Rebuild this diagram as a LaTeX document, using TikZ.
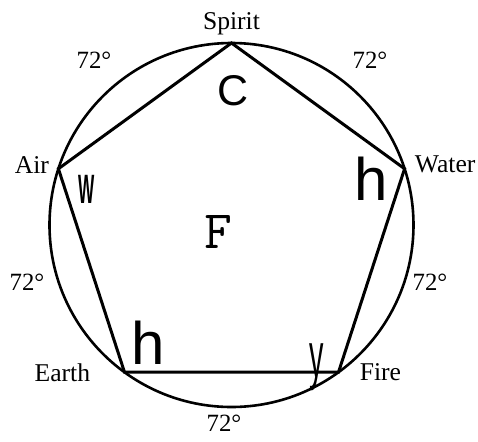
\documentclass[tikz,border=0pt]{standalone}
\usepackage{fontspec}
\setmainfont{Liberation Serif}
\newfontfamily\glyphsans{Liberation Sans}
\usetikzlibrary{positioning}

\begin{document}
\begin{tikzpicture}[
    x=0.5pt, y=0.5pt,
    element/.style={font=\fontsize{12.8}{14}\selectfont, inner sep=0pt},
    arcangle/.style={font=\fontsize{12.4}{14}\selectfont, inner sep=0pt},
    glyph/.style={font=\glyphsans\fontsize{#1}{#1}\selectfont, inner sep=0pt},
    side/.style={line width=1.5pt, line join=miter}
]
\useasboundingbox (-231.5,-216) rectangle (246.5,225);

% circle and the five corners
\draw[line width=1.3pt] (0,0) circle (182);
\coordinate (spirit) at (90:182);
\coordinate (water)  at (18:182);
\coordinate (fire)   at (-54:182);
\coordinate (earth)  at (-126:182);
\coordinate (air)    at (162:182);
\draw[side] (spirit) -- (water) -- (fire) -- (earth) -- (air) -- cycle;

\node[element, above=4pt of spirit] (spiritlbl) {Spirit};
\node[element, left=4.5pt of air, yshift=2pt] (airlbl) {Air};
\node[element, right=5pt of water, yshift=2pt] (waterlbl) {Water};
\node[element, left=17pt of earth] (earthlbl) {Earth};
\node[element, right=10.5pt of fire] (firelbl) {Fire};

% the arcs between corners
\node[arcangle] (arcsw) at (-137.5,165) {72°};
\node[arcangle] (arcwf) at (138.5,165) {72°};
\node[arcangle] (arcae) at (-204.5,-57) {72°};
\node[arcangle] (arcfr) at (198.5,-57) {72°};
\node[arcangle] (arcef) at (-7.5,-198) {72°};

% letters inside
\node[glyph=21.5] (gc) at (1.5,134) {C};
\node[glyph=30] (gh1) at (139.5,46) {h};
\node[glyph=30] (gh2) at (-83.5,-118) {h};
\node[glyph=20.5, xscale=0.42] (gw) at (-144.5,36) {\bfseries W};
\node[glyph=32, xscale=0.45] (gy) at (85.5,-142) {y};
\node[inner sep=0pt, font=\ttfamily\fontsize{27}{27}\selectfont] (gf) at (-13.5,-7) {F};
\end{tikzpicture}
\end{document}
